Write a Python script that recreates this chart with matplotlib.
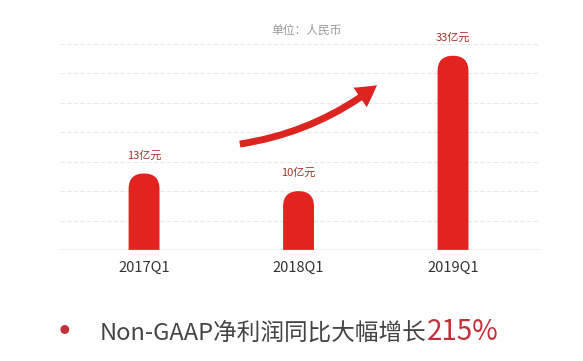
import matplotlib
matplotlib.use('Agg')
import matplotlib.pyplot as plt
from matplotlib.patches import FancyBboxPatch, FancyArrowPatch

plt.rcParams['font.family'] = ['Noto Sans CJK SC', 'DejaVu Sans']

quarters = ['2017Q1', '2018Q1', '2019Q1']
profit = [13, 10, 33]
value_labels = ['13亿元', '10亿元', '33亿元']
unit_text = '单位：人民币'
headline = 'Non-GAAP净利润同比大幅增长'
growth = '215%'

W, H = 583, 361
fig = plt.figure(figsize=(W / 100, H / 100), dpi=100)
ax = fig.add_axes([60 / W, 111 / H, 480 / W, 206 / H])
ax.set_xlim(-0.544, 2.563)
ax.set_ylim(0, 35)

# light dashed grid
for y in range(5, 36, 5):
    ax.axhline(y, color='#e9e9e9', lw=0.8, ls=(0, (4, 2)), zorder=0)
ax.axhline(0, color='#bdbdbd', lw=1.0, zorder=3)

red = '#e2231f'
bw = 0.2
aspect = 154.5 / 5.89  # data-y per data-x for equal pixels
r = bw / 2
for i, v in enumerate(profit):
    p = FancyBboxPatch((i - bw / 2, -3), bw, v + 3,
                       boxstyle='round,pad=0,rounding_size=%f' % r,
                       mutation_aspect=aspect, fc=red, ec='none', zorder=2)
    ax.add_patch(p)
    ax.text(i, v + 2.2, value_labels[i], ha='center', va='bottom',
            fontsize=8, color='#a3302b')

ax.set_xticks(range(len(quarters)))
ax.set_xticklabels(quarters, fontsize=10.5, color='#333333')
ax.tick_params(length=0, pad=8)
ax.set_yticks([])
for s in ax.spines.values():
    s.set_visible(False)

# curved growth arrow
arr = FancyArrowPatch((0.62, 18.0), (1.508, 28.0), connectionstyle='arc3,rad=0.13',
                      arrowstyle='simple,head_length=15,head_width=17,tail_width=5',
                      color='#dc2420', lw=0, zorder=2, shrinkA=0, shrinkB=0)
ax.add_patch(arr)

fig.text(307 / W, 1 - 30 / H, unit_text, ha='center', va='center',
         fontsize=8.5, color='#9a9a9a')

fig.text(64 / W, 1 - 333 / H, '•', ha='center', va='center',
         fontsize=30, color='#c2303a')
t = fig.text(100 / W, 1 - 333 / H, headline, ha='left', va='center',
             fontsize=17, color='#444444', fontweight='light')
fig.canvas.draw()
bb = t.get_window_extent()
fig.text(bb.x1 / W + 0.001, 1 - 332 / H, growth, ha='left', va='center',
         fontsize=20, color='#c2303a')

fig.savefig('out.png', dpi=100)
